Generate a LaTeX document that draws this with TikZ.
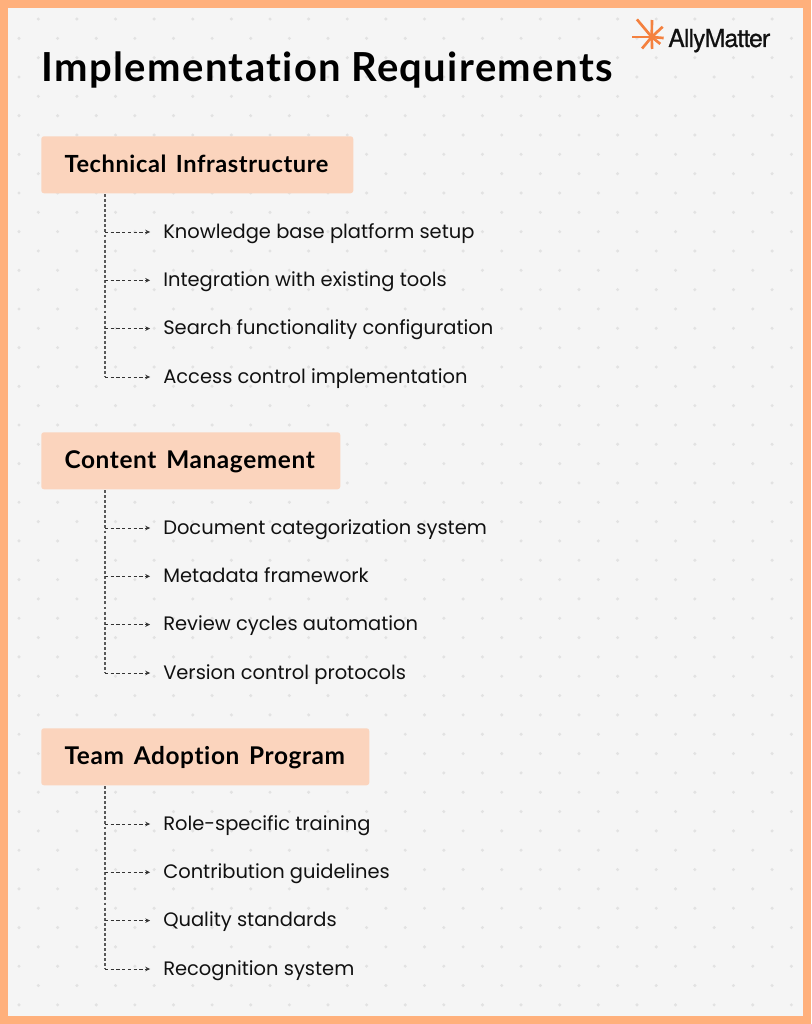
\documentclass[tikz,border=0pt]{standalone}
\usepackage{fontspec}
\setmainfont{Poppins}
\newfontfamily\headfont{Lato}[BoldFont={Lato Bold},Ligatures=NoCommon,LetterSpace=2.5,WordSpace=1.5]
\newfontfamily\titlefont{Lato}[BoldFont={Lato Bold},Ligatures=NoCommon,LetterSpace=3.5,WordSpace=0.9]
\newfontfamily\logofont{TeX Gyre Heros}[LetterSpace=-3.5,FakeBold=0.6]
\usetikzlibrary{arrows.meta}
\definecolor{frameor}{HTML}{FFB07C}
\definecolor{paper}{HTML}{F5F5F5}
\definecolor{dotc}{HTML}{E2E2E2}
\definecolor{boxc}{HTML}{FBD4BD}
\definecolor{logoc}{HTML}{F4813F}
\definecolor{ink}{HTML}{111111}
\tikzset{
  headbox/.style={fill=boxc,rounded corners=2pt,anchor=north west,inner xsep=17.5pt,inner ysep=0pt,minimum height=42.75pt,text height=12.2pt,text depth=0.7pt,text=black,font=\headfont\fontsize{18.3}{22}\selectfont\bfseries},
  item/.style={anchor=west,inner sep=0pt,text height=10pt,text depth=0.6pt,text=ink,font=\fontsize{14.6}{18}\selectfont},
  trunk/.style={draw=black!65,line width=0.9pt,dash pattern=on 2.2pt off 1.6pt},
  branch/.style={draw=black!80,line width=0.6pt,dash pattern=on 2.4pt off 1.9pt,-{Stealth[length=3.6pt,width=3.4pt]},shorten >=9.7pt},
  ray/.style={draw=logoc,line width=2pt}
}
\begin{document}
\begin{tikzpicture}[x=0.75pt,y=-0.75pt]
\useasboundingbox (0,0) rectangle (811,1024);
\fill[frameor] (0,0) rectangle (811,1024);
\fill[paper] (8,8) rectangle (803,1016);
% dots
\begin{scope}
\clip (8,8) rectangle (803,1016);
\foreach \r in {0,...,53}{
  \pgfmathsetmacro{\yy}{-0.3+19.33*\r}
  \pgfmathsetmacro{\xo}{mod(\r,2)==0 ? 19 : 38.3}
  \foreach \c in {0,...,21}{
    \fill[dotc] ({\xo+38.62*\c},\yy) circle (1.7);
  }
}
\end{scope}
% title
\node[anchor=base west,inner sep=0pt,text=black,font=\titlefont\fontsize{30}{36}\selectfont\bfseries] (title) at (41,82) {Implementation Requirements};
% logo
\coordinate (star) at (651.7,37);
\foreach \a/\l in {180/20,130/15,88/12,39/11,5/12,-43/15,-89/17,-130/23}{
  \draw[ray] (star) -- ++(\a:\l);
}
\node[anchor=base west,inner sep=0pt,text=ink,font=\logofont\fontsize{18.6}{20}\selectfont] (logo) at (668,47) {AllyMatter};
% group 1
\node[headbox,font=\headfont\fontsize{17.7}{22}\selectfont\bfseries] (h1) at (41,136) {\makebox[199pt][l]{Technical Infrastructure}};
\coordinate (t1) at (105,194);
\node[item] (a1) at (163,232) {Knowledge base platform setup};
\node[item] (a2) at (163,280.3) {Integration with existing tools};
\node[item] (a3) at (163,328.6) {Search functionality configuration};
\node[item] (a4) at (163,377) {Access control implementation};
\draw[trunk] (t1) -- (t1 |- a4);
\foreach \n in {a1,a2,a3,a4}{\draw[branch] (t1 |- \n.west) -- (\n.west);}
% group 2
\node[headbox] (h2) at (41,432) {\makebox[189.25pt][l]{Content Management}};
\coordinate (t2) at (105,490);
\node[item] (b1) at (163,528) {Document categorization system};
\node[item] (b2) at (163,576.3) {Metadata framework};
\node[item] (b3) at (163,624.6) {Review cycles automation};
\node[item] (b4) at (163,673) {Version control protocols};
\draw[trunk] (t2) -- (t2 |- b4);
\foreach \n in {b1,b2,b3,b4}{\draw[branch] (t2 |- \n.west) -- (\n.west);}
% group 3
\node[headbox] (h3) at (41,728) {\makebox[211pt][l]{Team Adoption Program}};
\coordinate (t3) at (105,786);
\node[item] (c1) at (163,824) {Role-specific training};
\node[item] (c2) at (163,872.3) {Contribution guidelines};
\node[item] (c3) at (163,920.6) {Quality standards};
\node[item] (c4) at (163,969) {Recognition system};
\draw[trunk] (t3) -- (t3 |- c4);
\foreach \n in {c1,c2,c3,c4}{\draw[branch] (t3 |- \n.west) -- (\n.west);}
\end{tikzpicture}
\end{document}
